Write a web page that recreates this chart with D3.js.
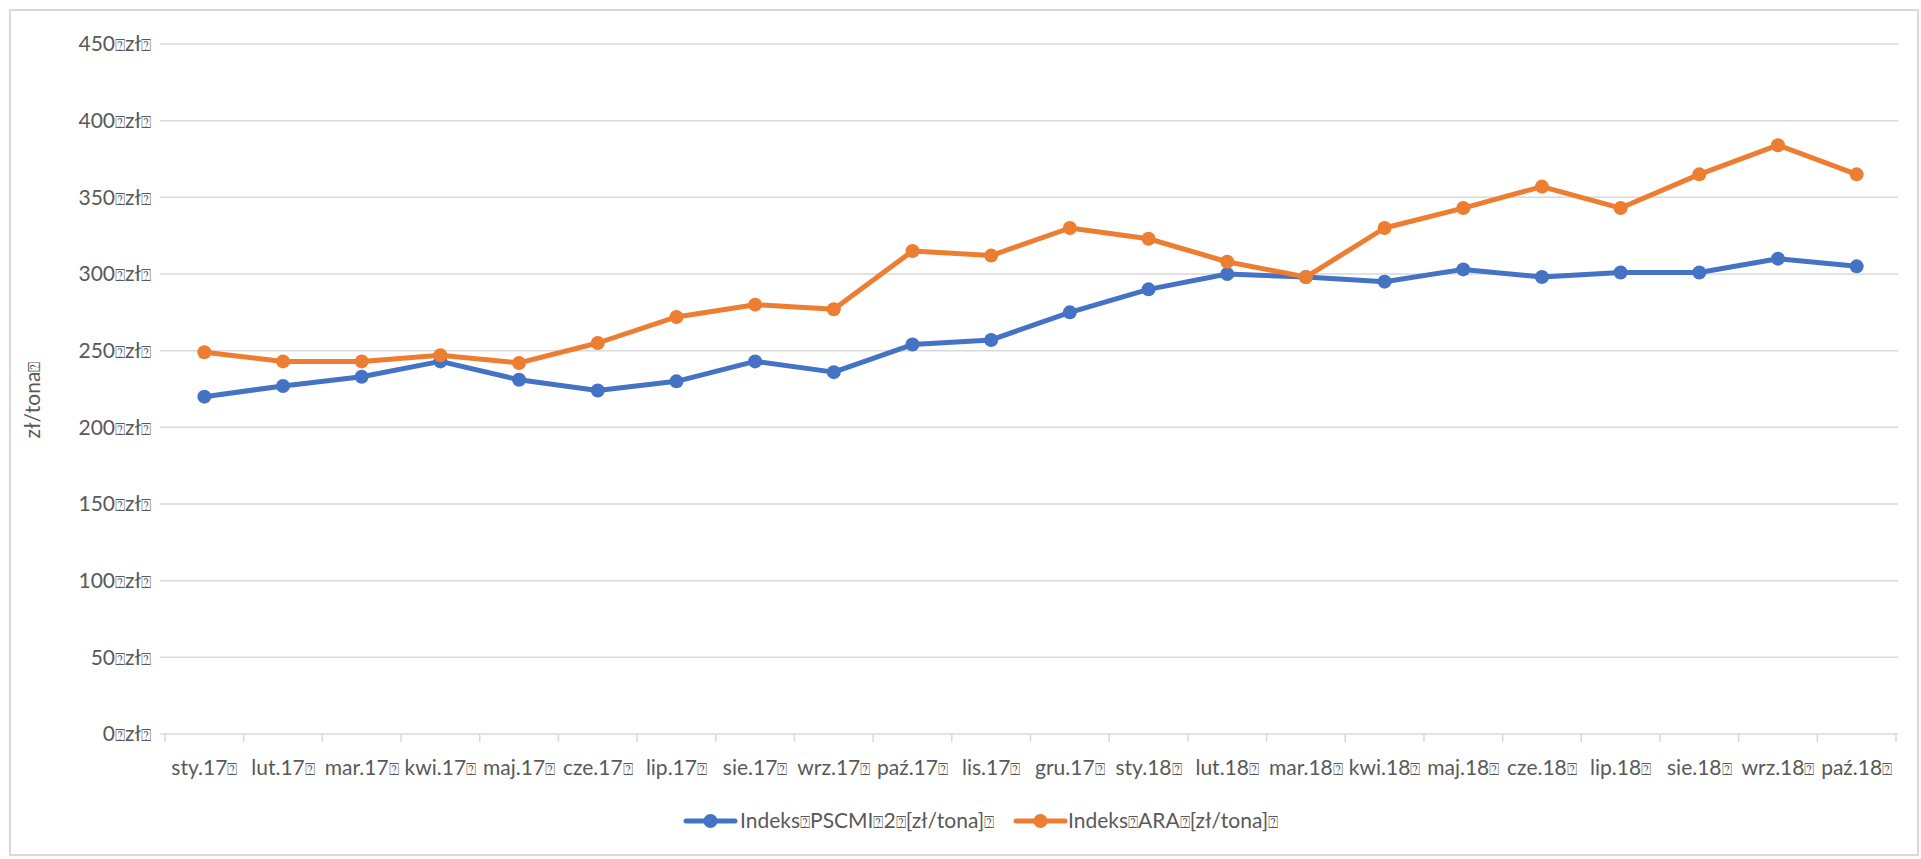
<!DOCTYPE html>
<html><head><meta charset="utf-8">
<script src="https://cdn.jsdelivr.net/npm/d3@7"></script>
<style>
html,body{margin:0;padding:0;background:#fff;}
svg{display:block;}
text{font-family:Lato,"Open Sans",sans-serif;fill:#595959;}
</style></head><body>
<svg id="c" width="1921" height="859"></svg>
<script>
const B = "\u2370";
const categories = ["sty.17","lut.17","mar.17","kwi.17","maj.17","cze.17","lip.17","sie.17","wrz.17","paź.17","lis.17","gru.17","sty.18","lut.18","mar.18","kwi.18","maj.18","cze.18","lip.18","sie.18","wrz.18","paź.18"];
const pscmi = [220,227,233,243,231,224,230,243,236,254,257,275,290,300,298,295,303,298,301,301,310,305];
const ara = [249,243,243,247,242,255,272,280,277,315,312,330,323,308,298,330,343,357,343,365,384,365];
const yTicks = [0,50,100,150,200,250,300,350,400,450];
const seriesNames = ["Indeks"+B+"PSCMI"+B+"2"+B+"[zł/tona]"+B, "Indeks"+B+"ARA"+B+"[zł/tona]"+B];
const colors = ["#4472C4","#ED7D31"];
const FS = 21, BFS = 17;

function richText(sel, str){
  const parts = str.split(B);
  parts.forEach((p,i)=>{
    if(p) sel.append("tspan").text(p);
    if(i<parts.length-1) sel.append("tspan").attr("font-size",BFS).text(B);
  });
}

const svg = d3.select("#c");
svg.append("rect").attr("x",10).attr("y",10).attr("width",1908).attr("height",845)
  .attr("fill","#fff").attr("stroke","#D9D9D9").attr("stroke-width",2);

const x = d3.scaleBand().domain(categories).range([165,1896]);
const y = d3.scaleLinear().domain([0,450]).range([734,44]);

svg.append("g").selectAll("line").data(yTicks).join("line")
  .attr("x1",160).attr("x2",1898).attr("y1",d=>y(d)).attr("y2",d=>y(d))
  .attr("stroke","#D9D9D9").attr("stroke-width",1.5);

svg.append("g").selectAll("text").data(yTicks).join("text")
  .attr("x",151).attr("y",d=>y(d)).attr("dy","0.35em").attr("text-anchor","end")
  .attr("font-size",FS).each(function(d){ richText(d3.select(this), d+B+"zł"+B); });

const bounds = categories.map(c=>x(c)).concat([x.range()[1]]);
svg.append("g").selectAll("line").data(bounds).join("line")
  .attr("x1",d=>d).attr("x2",d=>d).attr("y1",734).attr("y2",742)
  .attr("stroke","#D9D9D9").attr("stroke-width",1.5);

svg.append("g").selectAll("text").data(categories).join("text")
  .attr("x",d=>x(d)+x.bandwidth()/2).attr("y",768).attr("dy","0.35em")
  .attr("text-anchor","middle").attr("font-size",FS)
  .each(function(d){ richText(d3.select(this), d+B); });

const yt = svg.append("text").attr("transform","translate(33,400) rotate(-90)")
  .attr("text-anchor","middle").attr("dy","0.35em").attr("font-size",FS);
richText(yt, "zł/tona"+B);

const series = [pscmi, ara];
const line = d3.line().x((d,i)=>x(categories[i])+x.bandwidth()/2).y(d=>y(d));
series.forEach((s,k)=>{
  const g = svg.append("g");
  g.append("path").datum(s).attr("d",line).attr("fill","none")
    .attr("stroke",colors[k]).attr("stroke-width",5).attr("stroke-linejoin","round");
  g.selectAll("circle").data(s).join("circle")
    .attr("cx",(d,i)=>x(categories[i])+x.bandwidth()/2).attr("cy",d=>y(d))
    .attr("r",7).attr("fill",colors[k]);
});

const leg = [{x:686,t:740},{x:1016,t:1068}];
leg.forEach((l,k)=>{
  const g = svg.append("g");
  g.append("line").attr("x1",l.x).attr("x2",l.x+49).attr("y1",821).attr("y2",821)
    .attr("stroke",colors[k]).attr("stroke-width",5).attr("stroke-linecap","round");
  g.append("circle").attr("cx",l.x+24.5).attr("cy",821).attr("r",7).attr("fill",colors[k]);
  const t = g.append("text").attr("x",l.t).attr("y",821).attr("dy","0.35em").attr("font-size",FS);
  richText(t, seriesNames[k]);
});
</script></body></html>
